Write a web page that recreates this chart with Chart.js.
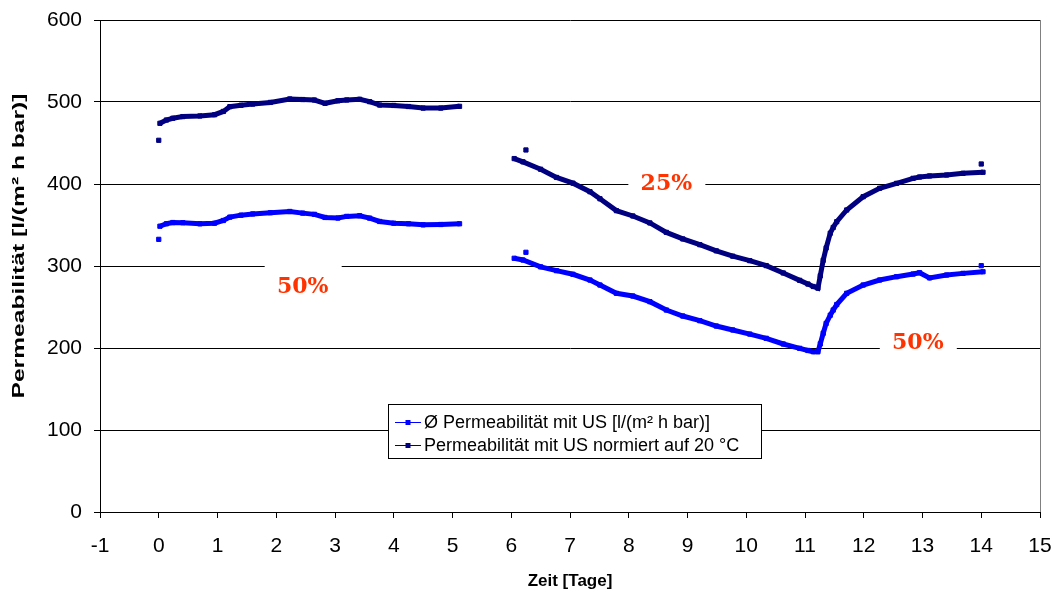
<!DOCTYPE html>
<html lang="de">
<head>
  <meta charset="UTF-8">
  <title>Permeabilität</title>
  <script src="https://cdn.jsdelivr.net/npm/chart.js"></script>
  <style>
    body { margin: 0; background: #fff; }
    canvas { display: block; }
  </style>
</head>
<body>
  <canvas id="permChart" width="1058" height="595"></canvas>
  <script>
    // Messzeit in Tagen (Lücke bei 5.6 = kein Betrieb)
    const tage = [
      0.02, 0.13, 0.24, 0.41, 0.70, 0.95, 1.10, 1.21, 1.40, 1.60, 1.90, 2.23, 2.45,
      2.65, 2.83, 3.05, 3.20, 3.42, 3.59, 3.76, 4.00, 4.25, 4.50, 4.80, 5.12,
      5.60,
      6.05, 6.20, 6.50, 6.77, 7.05, 7.34, 7.51, 7.79, 8.07, 8.36, 8.64, 8.92, 9.21,
      9.49, 9.77, 10.06, 10.34, 10.63, 10.91, 11.05, 11.14, 11.22, 11.26, 11.31,
      11.36, 11.43, 11.48, 11.54, 11.71, 11.99, 12.27, 12.56, 12.84, 12.95, 13.12,
      13.41, 13.69, 14.03
    ];
    // Ø Permeabilität mit US [l/(m² h bar)]
    const perm = [
      348.5, 351.5, 353, 352.8, 351.5, 352.2, 355.5, 359.6, 362, 363.5, 365, 366.5, 364.5,
      363, 359.2, 358.5, 360.5, 361.3, 358.4, 354.3, 352.2, 351.5, 350.2, 350.6, 351.5,
      null,
      309.4, 307.3, 299, 294.3, 289.9, 282.9, 276.8, 266.7, 263.4, 256.5, 246.3, 239, 233.3,
      226.8, 222, 217, 211.8, 204.9, 199.6, 197, 195.5, 195.5, 205, 218,
      230, 240, 246.3, 253, 266.7, 276.8, 282.9, 287, 290.2, 291.8, 285.5,
      289, 291, 293
    ];
    // Permeabilität mit US normiert auf 20 °C
    const permNorm = [
      474, 478, 480.2, 482.2, 483, 484.5, 488.5, 494.3, 496, 497.5, 499.5, 503.7, 503,
      502.4, 498.4, 501.5, 502.5, 503.3, 500.4, 496.3, 495.8, 494.5, 492.6, 492.6, 494.7,
      null,
      431, 427, 418, 408, 401, 390.6, 382, 367.5, 361, 352.5, 341, 333, 326,
      318.5, 312, 306.5, 300.5, 291.5, 282.5, 278, 275, 273, 288, 307,
      322, 340, 347, 354, 368.3, 384.5, 394.8, 400.8, 406.9, 408.5, 409.8,
      411, 413, 414.3
    ];
    // Einzelmessungen (nicht verbunden)
    const einzelTage = [0.0, 6.25, 14.0];
    const einzelPerm = [332.5, 316.7, 300.4];
    const einzelNorm = [453.3, 441.5, 424.4];

    const xTicks = [-1, 15];
    const yTicks = [0, 600];

    // Beschriftungen der Versuchsabschnitte
    const hinweise = [
      { text: '50%', tag: 2.45, wert: 275.6 },
      { text: '25%', tag: 8.64, wert: 401 },
      { text: '50%', tag: 12.92, wert: 206.7 }
    ];

    function punkte(werte, einzel) {
      const pts = tage.map((t, i) => ({ x: t, y: werte[i] }));
      einzelTage.forEach((t, i) => {
        pts.push({ x: t, y: null });
        pts.push({ x: t, y: einzel[i] });
      });
      return pts;
    }

    const hinweisPlugin = {
      id: 'hinweise',
      beforeDatasetsDraw(chart) {
        const { ctx, scales: { x, y } } = chart;
        ctx.save();
        ctx.font = 'bold 22px "DejaVu Serif", Cambria, serif';
        ctx.textAlign = 'center';
        ctx.textBaseline = 'middle';
        hinweise.forEach(h => {
          const px = x.getPixelForValue(h.tag);
          const py = y.getPixelForValue(h.wert);
          ctx.fillStyle = '#fff';
          ctx.fillRect(px - 38, py - 22, 77, 44);
          ctx.fillStyle = '#FF3300';
          ctx.fillText(h.text, px, py + 1);
        });
        ctx.restore();
      }
    };

    const rahmenPlugin = {
      id: 'rahmen',
      afterDraw(chart) {
        const ctx = chart.ctx;
        ctx.save();

        // y-Achsentitel, gestreckt wie im Excel-Diagramm
        const titel = 'Permeabilität [l/(m² h bar)]';
        ctx.font = 'bold 17px "Liberation Sans", Arial, sans-serif';
        const w = ctx.measureText(titel).width;
        ctx.translate(19, 246);
        ctx.rotate(-Math.PI / 2);
        ctx.scale(305 / w, 1);
        ctx.fillStyle = '#000';
        ctx.textAlign = 'center';
        ctx.textBaseline = 'middle';
        ctx.fillText(titel, 0, 0);
        ctx.setTransform(1, 0, 0, 1, 0, 0);

        // Legende im Diagramm
        const lx = 388.5, ly = 404.5, lw = 373, lh = 54;
        ctx.fillStyle = '#fff';
        ctx.fillRect(lx, ly, lw, lh);
        ctx.strokeStyle = '#000';
        ctx.lineWidth = 1;
        ctx.strokeRect(lx, ly, lw, lh);
        ctx.font = '18px "Liberation Sans", Arial, sans-serif';
        ctx.textAlign = 'left';
        ctx.textBaseline = 'middle';
        chart.data.datasets.forEach((ds, i) => {
          const ry = Math.round(ly + 17 + i * 23.5) + 0.5;
          ctx.strokeStyle = ds.borderColor;
          ctx.beginPath();
          ctx.moveTo(395, ry);
          ctx.lineTo(421, ry);
          ctx.stroke();
          ctx.fillStyle = ds.borderColor;
          ctx.fillRect(405.5, ry - 2.5, 5, 5);
          ctx.fillStyle = '#000';
          ctx.fillText(ds.label, 424, ry + 1);
        });
        ctx.restore();
      }
    };

    const linie = {
      showLine: true,
      borderWidth: 5,
      pointStyle: 'rect',
      pointRadius: 3,
      pointBorderWidth: 1,
      pointHoverRadius: 3,
      spanGaps: false
    };

    new Chart(document.getElementById('permChart'), {
      type: 'scatter',
      data: {
        datasets: [
          Object.assign({
            label: 'Ø Permeabilität mit US [l/(m² h bar)]',
            data: punkte(perm, einzelPerm),
            borderColor: '#0000FF',
            backgroundColor: '#0000FF'
          }, linie),
          Object.assign({
            label: 'Permeabilität mit US normiert auf 20 °C',
            data: punkte(permNorm, einzelNorm),
            borderColor: '#000080',
            backgroundColor: '#000080'
          }, linie)
        ]
      },
      options: {
        responsive: false,
        animation: false,
        layout: { padding: { top: 20, right: 18, left: 0, bottom: 0 } },
        plugins: {
          legend: { display: false },
          tooltip: { enabled: false }
        },
        scales: {
          x: {
            type: 'linear',
            min: xTicks[0],
            max: xTicks[1],
            afterFit: s => {
              s.height = 83;
              s.paddingLeft = 0;
              s.paddingRight = 0;
            },
            ticks: {
              stepSize: 1,
              color: '#000',
              padding: 16,
              font: { family: '"Liberation Sans", Arial, sans-serif', size: 21 }
            },
            grid: {
              color: c => (c.tick && c.tick.value === xTicks[1]) ? '#808080' : 'rgba(0,0,0,0)',
              tickColor: '#000',
              tickLength: 6
            },
            border: { color: '#000', width: 1 },
            title: {
              display: true,
              text: 'Zeit [Tage]',
              color: '#000',
              padding: { top: 0, bottom: 3 },
              font: { family: '"Liberation Sans", Arial, sans-serif', size: 17, weight: 'bold' }
            }
          },
          y: {
            min: yTicks[0],
            max: yTicks[1],
            afterFit: s => {
              s.width = 100;
              s.paddingTop = 0;
              s.paddingBottom = 0;
            },
            ticks: {
              stepSize: 100,
              color: '#000',
              padding: 12,
              font: { family: '"Liberation Sans", Arial, sans-serif', size: 21 }
            },
            grid: { color: '#000', tickColor: '#000', tickLength: 6 },
            border: { color: '#000', width: 1 }
          }
        }
      },
      plugins: [hinweisPlugin, rahmenPlugin]
    });
  </script>
</body>
</html>
